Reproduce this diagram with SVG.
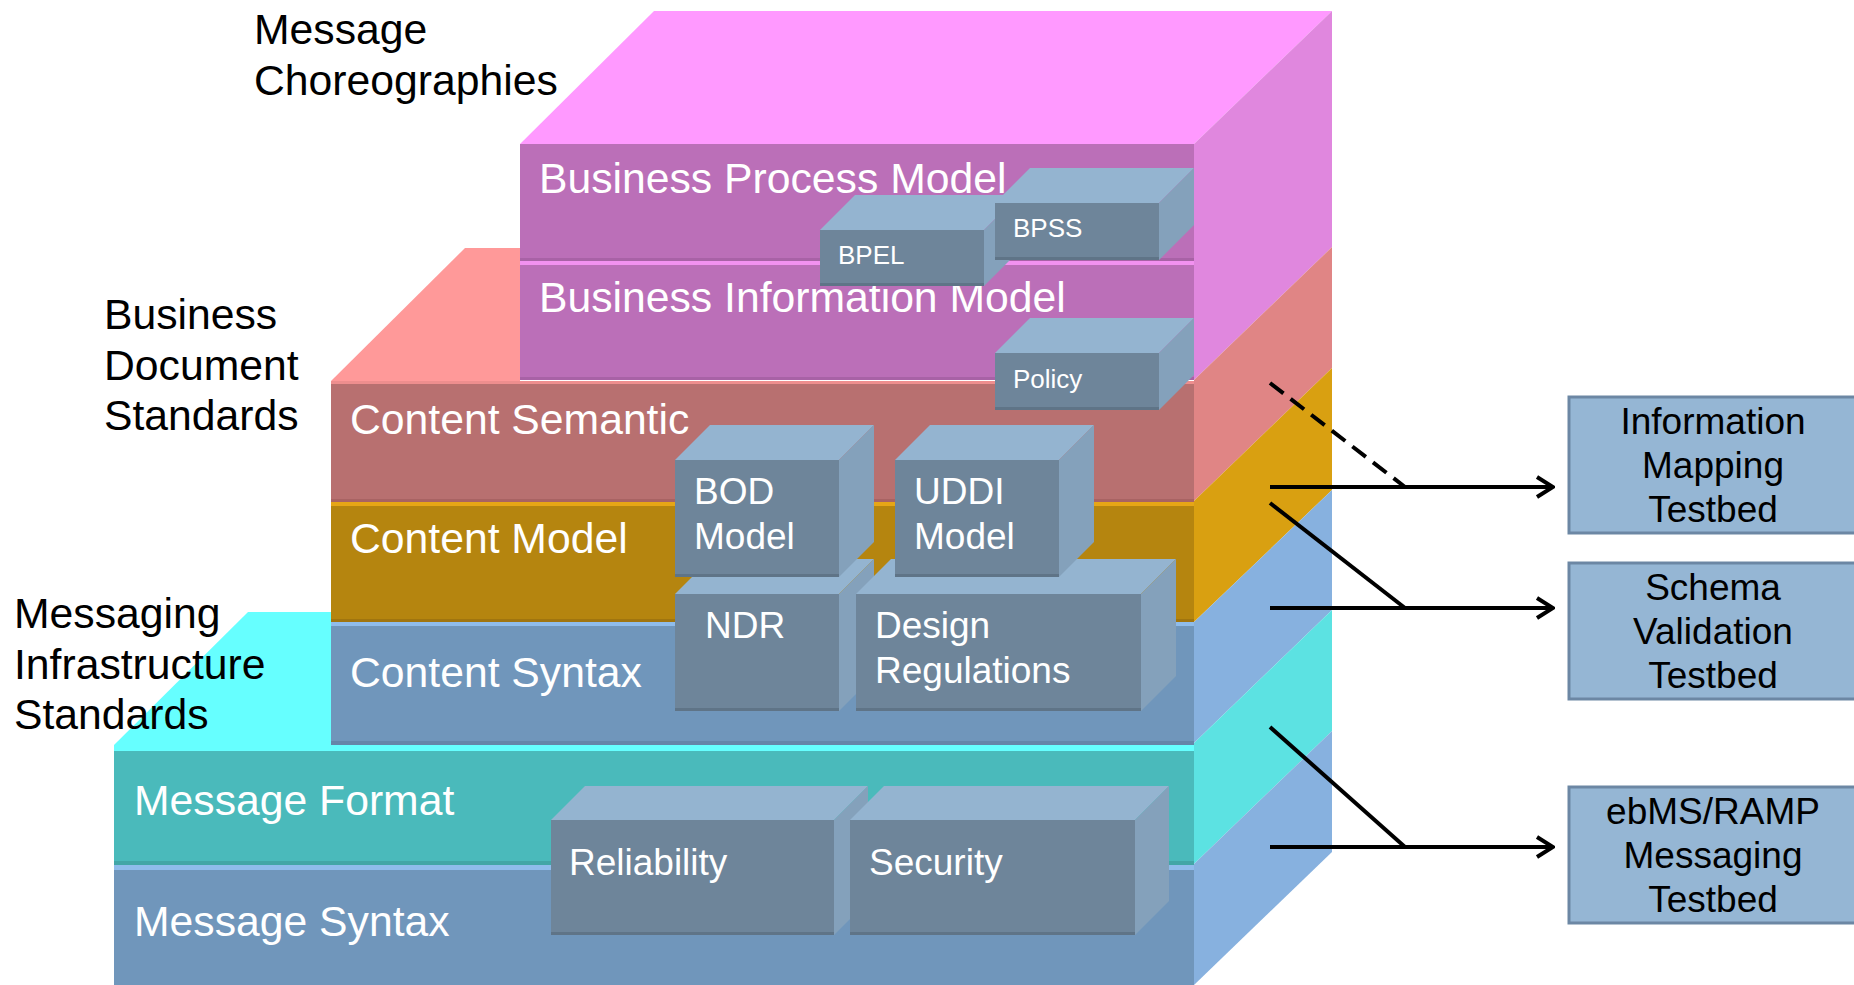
<svg xmlns="http://www.w3.org/2000/svg" width="1854" height="985" viewBox="0 0 1854 985">
<defs>
<style>
.lbl{font-family:"Liberation Sans",Arial,sans-serif;font-size:42.7px;fill:#000}
.wl{font-family:"Liberation Sans",Arial,sans-serif;font-size:42.7px;fill:#fff}
.bl{font-family:"Liberation Sans",Arial,sans-serif;font-size:37px;fill:#fff}
.sl{font-family:"Liberation Sans",Arial,sans-serif;font-size:26px;fill:#fff}
.tl{font-family:"Liberation Sans",Arial,sans-serif;font-size:37px;fill:#000;text-anchor:middle}
.bf{fill:#6E859A}
.bt{fill:#94B4D0}
.bs{fill:#84A1BB}
.be{fill:#5F7487}
.tb{fill:#95B6D4;stroke:#6C87A4;stroke-width:3}
.conn{stroke:#000;stroke-width:4;fill:none}
</style>
<marker id="arr" viewBox="0 0 20 24" refX="18" refY="12" markerWidth="20" markerHeight="24" markerUnits="userSpaceOnUse" orient="auto">
<path d="M2,2 L18,12 L2,22" fill="none" stroke="#000" stroke-width="4"/>
</marker>
</defs>
<rect width="1854" height="985" fill="#fff"/>

<!-- Pink block: Message Choreographies -->
<g id="layer-business-process">
<polygon points="520,144 654,11 1332,11 1194,144" fill="#FF99FF"/>
<polygon points="1194,144 1332,11 1332,247 1194,380" fill="#E087DE"/>
<rect x="520" y="144" width="674" height="117" fill="#BB6FB8"/>
<rect x="520" y="258" width="674" height="3" fill="#A862A6"/>
<text class="wl" x="539" y="193">Business Process Model</text>
</g>
<g id="layer-business-information">
<rect x="520" y="261" width="674" height="119" fill="#BB6FB8"/>
<rect x="520" y="261" width="674" height="4" fill="#F291F0"/>
<rect x="520" y="377" width="674" height="3" fill="#A862A6"/>
<text class="wl" x="539" y="312">Business Information Model</text>
</g>

<!-- Content block -->
<g id="layer-content-semantic">
<polygon points="331,381 465,248 520,248 520,381" fill="#FF9999"/>
<polygon points="1194,380 1332,247 1332,368 1194,501" fill="#E08585"/>
<rect x="331" y="381" width="863" height="121" fill="#B87070"/>
<rect x="331" y="381" width="863" height="3" fill="#EE8E8E"/>
<rect x="331" y="499" width="863" height="3" fill="#A86363"/>
<text class="wl" x="350" y="434">Content Semantic</text>
</g>
<g id="layer-content-model">
<polygon points="1194,501 1332,368 1332,490 1194,622" fill="#D9A011"/>
<rect x="331" y="502" width="863" height="120" fill="#B5850F"/>
<rect x="331" y="502" width="863" height="4" fill="#E6A616"/>
<rect x="331" y="619" width="863" height="3" fill="#A0750F"/>
<text class="wl" x="350" y="553">Content Model</text>
</g>
<g id="layer-content-syntax">
<polygon points="1194,622 1332,490 1332,610 1194,743" fill="#87B1DF"/>
<rect x="331" y="622" width="863" height="123" fill="#7096BB"/>
<rect x="331" y="622" width="863" height="4" fill="#8FBCEB"/>
<rect x="331" y="741" width="863" height="4" fill="#6586A9"/>
<text class="wl" x="350" y="687">Content Syntax</text>
</g>

<!-- Messaging block -->
<g id="layer-message-format">
<polygon points="114,745 248,612 331,612 331,745" fill="#66FFFF"/>
<polygon points="1194,743 1332,610 1332,731 1194,864" fill="#5CE2E2"/>
<rect x="114" y="745" width="1080" height="120" fill="#4ABABB"/>
<rect x="114" y="745" width="1080" height="6" fill="#66FFFF"/>
<rect x="114" y="861" width="1080" height="4" fill="#42A6A7"/>
<text class="wl" x="134" y="815">Message Format</text>
</g>
<g id="layer-message-syntax">
<polygon points="1194,864 1332,731 1332,852 1194,985" fill="#87B1DF"/>
<rect x="114" y="865" width="1080" height="120" fill="#7096BB"/>
<rect x="114" y="865" width="1080" height="5" fill="#8FBCEB"/>
<text class="wl" x="134" y="936">Message Syntax</text>
</g>

<!-- Inner boxes -->
<g id="box-bpel">
<polygon class="bt" points="820,230 855,195 1019,195 984,230"/>
<polygon class="bs" points="984,230 1019,195 1019,251 984,286"/>
<rect class="bf" x="820" y="230" width="164" height="56"/>
<rect class="be" x="820" y="283" width="164" height="3"/>
<text class="sl" x="838" y="264">BPEL</text>
</g>
<g id="box-bpss">
<polygon class="bt" points="995,203 1030,168 1194,168 1159,203"/>
<polygon class="bs" points="1159,203 1194,168 1194,225 1159,260"/>
<rect class="bf" x="995" y="203" width="164" height="57"/>
<rect class="be" x="995" y="257" width="164" height="3"/>
<text class="sl" x="1013" y="237">BPSS</text>
</g>
<g id="box-policy">
<polygon class="bt" points="995,353 1030,318 1194,318 1159,353"/>
<polygon class="bs" points="1159,353 1194,318 1194,375 1159,410"/>
<rect class="bf" x="995" y="353" width="164" height="57"/>
<rect class="be" x="995" y="407" width="164" height="3"/>
<text class="sl" x="1013" y="388">Policy</text>
</g>
<g id="box-ndr">
<polygon class="bt" points="675,594 710,559 874,559 839,594"/>
<polygon class="bs" points="839,594 874,559 874,676 839,711"/>
<rect class="bf" x="675" y="594" width="164" height="117"/>
<rect class="be" x="675" y="708" width="164" height="3"/>
<text class="bl" x="705" y="638">NDR</text>
</g>
<g id="box-design-regulations">
<polygon class="bt" points="856,594 891,559 1176,559 1141,594"/>
<polygon class="bs" points="1141,594 1176,559 1176,676 1141,711"/>
<rect class="bf" x="856" y="594" width="285" height="117"/>
<rect class="be" x="856" y="708" width="285" height="3"/>
<text class="bl" x="875" y="638">Design</text>
<text class="bl" x="875" y="683">Regulations</text>
</g>
<g id="box-bod-model">
<polygon class="bt" points="675,460 710,425 874,425 839,460"/>
<polygon class="bs" points="839,460 874,425 874,542 839,577"/>
<rect class="bf" x="675" y="460" width="164" height="117"/>
<rect class="be" x="675" y="574" width="164" height="3"/>
<text class="bl" x="694" y="504">BOD</text>
<text class="bl" x="694" y="549">Model</text>
</g>
<g id="box-uddi-model">
<polygon class="bt" points="895,460 930,425 1094,425 1059,460"/>
<polygon class="bs" points="1059,460 1094,425 1094,542 1059,577"/>
<rect class="bf" x="895" y="460" width="164" height="117"/>
<rect class="be" x="895" y="574" width="164" height="3"/>
<text class="bl" x="914" y="504">UDDI</text>
<text class="bl" x="914" y="549">Model</text>
</g>
<g id="box-reliability">
<polygon class="bt" points="551,820 585,786 868,786 834,820"/>
<polygon class="bs" points="834,820 868,786 868,901 834,935"/>
<rect class="bf" x="551" y="820" width="283" height="115"/>
<rect class="be" x="551" y="932" width="283" height="3"/>
<text class="bl" x="569" y="875">Reliability</text>
</g>
<g id="box-security">
<polygon class="bt" points="850,820 884,786 1169,786 1135,820"/>
<polygon class="bs" points="1135,820 1169,786 1169,901 1135,935"/>
<rect class="bf" x="850" y="820" width="285" height="115"/>
<rect class="be" x="850" y="932" width="285" height="3"/>
<text class="bl" x="869" y="875">Security</text>
</g>

<!-- Side labels -->
<g id="label-message-choreographies">
<text class="lbl" x="254" y="44">Message</text>
<text class="lbl" x="254" y="95">Choreographies</text>
</g>
<g id="label-business-document-standards">
<text class="lbl" x="104" y="329">Business</text>
<text class="lbl" x="104" y="380">Document</text>
<text class="lbl" x="104" y="430">Standards</text>
</g>
<g id="label-messaging-infrastructure-standards">
<text class="lbl" x="14" y="628">Messaging</text>
<text class="lbl" x="14" y="679">Infrastructure</text>
<text class="lbl" x="14" y="729">Standards</text>
</g>

<!-- Testbeds -->
<g id="testbed-information-mapping">
<rect class="tb" x="1569" y="397" width="295" height="136"/>
<text class="tl" x="1713" y="434">Information</text>
<text class="tl" x="1713" y="478">Mapping</text>
<text class="tl" x="1713" y="522">Testbed</text>
</g>
<g id="testbed-schema-validation">
<rect class="tb" x="1569" y="563" width="295" height="136"/>
<text class="tl" x="1713" y="600">Schema</text>
<text class="tl" x="1713" y="644">Validation</text>
<text class="tl" x="1713" y="688">Testbed</text>
</g>
<g id="testbed-ebms-ramp">
<rect class="tb" x="1569" y="787" width="295" height="136"/>
<text class="tl" x="1713" y="824">ebMS/RAMP</text>
<text class="tl" x="1713" y="868">Messaging</text>
<text class="tl" x="1713" y="912">Testbed</text>
</g>

<!-- Connectors -->
<g id="connectors">
<line class="conn" x1="1270" y1="383" x2="1405" y2="487" stroke-dasharray="17 9"/>
<line class="conn" x1="1270" y1="487" x2="1553" y2="487" marker-end="url(#arr)"/>
<line class="conn" x1="1270" y1="503" x2="1405" y2="608"/>
<line class="conn" x1="1270" y1="608" x2="1553" y2="608" marker-end="url(#arr)"/>
<line class="conn" x1="1270" y1="727" x2="1405" y2="847"/>
<line class="conn" x1="1270" y1="847" x2="1553" y2="847" marker-end="url(#arr)"/>
</g>
</svg>
